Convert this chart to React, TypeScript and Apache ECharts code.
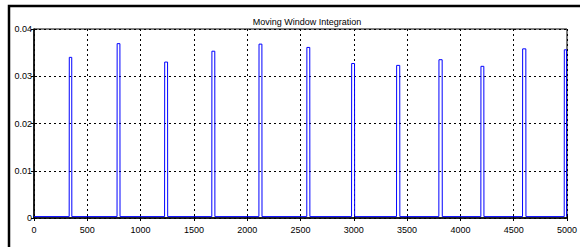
import React, { useEffect, useRef } from "react";
import * as echarts from "echarts";

const title = "Moving Window Integration";
const xTicks = [0, 500, 1000, 1500, 2000, 2500, 3000, 3500, 4000, 4500, 5000];
const yTicks = [0, 0.01, 0.02, 0.03, 0.04];
const baseline = 0.0003;
const peakStarts = [331, 780, 1226, 1669, 2111, 2560, 2980, 3402, 3799, 4193, 4584, 4975];
const peakEnds = [354, 806, 1253, 1696, 2138, 2587, 3007, 3431, 3829, 4220, 4614, 4995];
const peakHeights = [0.0340, 0.0369, 0.0330, 0.0353, 0.0368, 0.0361, 0.0327, 0.0323, 0.0335, 0.0321, 0.0358, 0.0356];

const FONT = "'Liberation Sans Narrow', 'Liberation Sans', Arial, sans-serif";

export default function App() {
  const ref = useRef<HTMLDivElement>(null);
  useEffect(() => {
    if (!ref.current) return;
    const chart = echarts.init(ref.current, undefined, { renderer: "svg" });
    const data: [number, number][] = [[0, baseline]];
    peakStarts.forEach((s, i) => {
      data.push([s - 1, baseline]);
      data.push([s, peakHeights[i]]);
      data.push([peakEnds[i], peakHeights[i]]);
      data.push([peakEnds[i] + 1, baseline]);
    });
    data.push([xTicks[xTicks.length - 1], baseline]);

    const gridLine = { show: true, lineStyle: { color: "#000", type: [2, 3] as any, width: 1 } };
    const label = { color: "#000", fontFamily: FONT, fontSize: 9 };
    chart.setOption({
      animation: false,
      backgroundColor: "#fff",
      title: {
        text: title,
        left: 302,
        top: 12,
        textAlign: "center",
        textStyle: { fontFamily: FONT, fontSize: 9, fontWeight: "normal", color: "#000" },
      },
      graphic: [
        {
          type: "rect",
          shape: { x: 9, y: 6, width: 620, height: 320 },
          style: { fill: "none", stroke: "#000", lineWidth: 2.5 },
          z: 100,
        },
      ],
      grid: {
        left: 34,
        top: 29,
        right: 9,
        bottom: 29,
        show: true,
        borderColor: "#000",
        borderWidth: 1,
      },
      xAxis: [
        {
          type: "value",
          min: 0,
          max: 5000,
          interval: 500,
          axisLine: { show: true, lineStyle: { color: "#000", width: 1.5 } },
          axisTick: { show: true, inside: true, length: 3, lineStyle: { color: "#000" } },
          axisLabel: { ...label, margin: 7, formatter: (v: number) => String(v) },
          splitLine: gridLine,
        },
        {
          type: "value",
          position: "top",
          min: 0,
          max: 5000,
          interval: 500,
          axisLine: { show: false },
          axisTick: { show: true, inside: true, length: 3, lineStyle: { color: "#000" } },
          axisLabel: { show: false },
          splitLine: { show: false },
        },
      ],
      yAxis: [
        {
          type: "value",
          min: 0,
          max: 0.04,
          interval: 0.01,
          axisLine: { show: true, lineStyle: { color: "#000", width: 1.5 } },
          axisTick: { show: true, inside: true, length: 3, lineStyle: { color: "#000" } },
          axisLabel: { ...label, margin: 2, formatter: (v: number) => (v === 0 ? "0" : v.toFixed(2)) },
          splitLine: gridLine,
        },
        {
          type: "value",
          position: "right",
          min: 0,
          max: 0.04,
          interval: 0.01,
          axisLine: { show: false },
          axisTick: { show: true, inside: true, length: 3, lineStyle: { color: "#000" } },
          axisLabel: { show: false },
          splitLine: { show: false },
        },
      ],
      series: [
        {
          type: "line",
          data,
          xAxisIndex: 0,
          yAxisIndex: 0,
          showSymbol: false,
          symbol: "none",
          lineStyle: { color: "#0000ff", width: 1 },
          clip: true,
        },
      ],
    });
    return () => chart.dispose();
  }, []);
  return (
    <div
      ref={ref}
      style={{ position: "absolute", left: 0, top: 0, width: 580, height: 247 }}
    />
  );
}
